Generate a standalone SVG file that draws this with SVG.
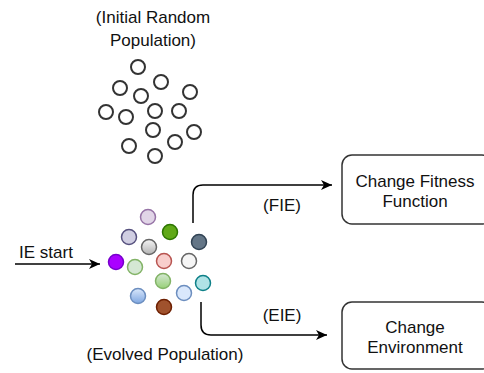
<svg xmlns="http://www.w3.org/2000/svg" width="484" height="373" viewBox="0 0 484 373">
<defs>
<marker id="arr" markerWidth="12" markerHeight="10" refX="11" refY="5" orient="auto" markerUnits="userSpaceOnUse">
<path d="M0,0 L11,5 L0,10 L3,5 Z" fill="#000"/>
</marker>
<linearGradient id="gGray" x1="0" y1="0" x2="0" y2="1"><stop offset="0" stop-color="#f5f5f5"/><stop offset="1" stop-color="#b3b3b3"/></linearGradient>
<linearGradient id="gGreen" x1="0" y1="0" x2="0" y2="1"><stop offset="0" stop-color="#d5e8d4"/><stop offset="1" stop-color="#97d077"/></linearGradient>
<linearGradient id="gBlue" x1="0" y1="0" x2="0" y2="1"><stop offset="0" stop-color="#dae8fc"/><stop offset="1" stop-color="#7ea6e0"/></linearGradient>
</defs>
<style>
text{font-family:"Liberation Sans",Arial,sans-serif;font-size:17px;fill:#111;text-anchor:middle}
.ic{fill:#fff;stroke:#333;stroke-width:2}
.ec{stroke-width:1.5}
.box{fill:#fff;stroke:#333;stroke-width:1.5}
.conn{fill:none;stroke:#000;stroke-width:1.5}
</style>
<g id="initial-label">
<text x="153" y="23">(Initial Random</text>
<text x="153" y="46">Population)</text>
</g>
<g id="initial-population">
<circle class="ic" cx="138" cy="67" r="7"/>
<circle class="ic" cx="161" cy="82" r="7"/>
<circle class="ic" cx="120" cy="88" r="7"/>
<circle class="ic" cx="141" cy="96" r="7"/>
<circle class="ic" cx="190" cy="92" r="7"/>
<circle class="ic" cx="106" cy="112" r="7"/>
<circle class="ic" cx="126" cy="117" r="7"/>
<circle class="ic" cx="155" cy="111" r="7"/>
<circle class="ic" cx="179" cy="111" r="7"/>
<circle class="ic" cx="153" cy="130" r="7"/>
<circle class="ic" cx="194" cy="132" r="7"/>
<circle class="ic" cx="129" cy="146" r="7"/>
<circle class="ic" cx="175" cy="142" r="7"/>
<circle class="ic" cx="155" cy="156" r="7"/>
</g>
<g id="evolved-population">
<circle class="ec" cx="148" cy="217" r="7.5" fill="#e1d5e7" stroke="#9673a6"/>
<circle class="ec" cx="170" cy="232" r="7.5" fill="#60a917" stroke="#2d7600"/>
<circle class="ec" cx="129" cy="237" r="7.5" fill="#d0cee2" stroke="#56517e"/>
<circle class="ec" cx="149" cy="247" r="7.5" fill="url(#gGray)" stroke="#666666"/>
<circle class="ec" cx="199" cy="242" r="7.5" fill="#647687" stroke="#314354"/>
<circle class="ec" cx="116" cy="262" r="7.5" fill="#aa00ff" stroke="#7700cc"/>
<circle class="ec" cx="135" cy="267" r="7.5" fill="#d5e8d4" stroke="#82b366"/>
<circle class="ec" cx="164" cy="261" r="7.5" fill="#f8cecc" stroke="#b85450"/>
<circle class="ec" cx="189" cy="261" r="7.5" fill="#f5f5f5" stroke="#666666"/>
<circle class="ec" cx="163" cy="281" r="7.5" fill="url(#gGreen)" stroke="#82b366"/>
<circle class="ec" cx="203" cy="283" r="7.5" fill="#b0e3e6" stroke="#0e8088"/>
<circle class="ec" cx="138" cy="296" r="7.5" fill="url(#gBlue)" stroke="#6c8ebf"/>
<circle class="ec" cx="184" cy="293" r="7.5" fill="#dae8fc" stroke="#6c8ebf"/>
<circle class="ec" cx="164" cy="307" r="7.5" fill="#a0522d" stroke="#6d1f00"/>
</g>
<g id="evolved-label">
<text x="165" y="360">(Evolved Population)</text>
</g>
<g id="fitness-box">
<rect class="box" x="342" y="155" width="150" height="69" rx="10"/>
<text x="415" y="187">Change Fitness</text>
<text x="415" y="207">Function</text>
</g>
<g id="environment-box">
<rect class="box" x="342" y="302" width="150" height="67" rx="10"/>
<text x="415" y="333">Change</text>
<text x="415" y="353">Environment</text>
</g>
<g id="connectors">
<path class="conn" d="M15,264 L100,264" marker-end="url(#arr)"/>
<text x="46" y="258">IE start</text>
<path class="conn" d="M193,223 L193,195 Q193,185 203,185 L332,185" marker-end="url(#arr)"/>
<text x="282" y="211">(FIE)</text>
<path class="conn" d="M201,302 L201,325 Q201,335 211,335 L327,335" marker-end="url(#arr)"/>
<text x="282" y="321">(EIE)</text>
</g>
</svg>
